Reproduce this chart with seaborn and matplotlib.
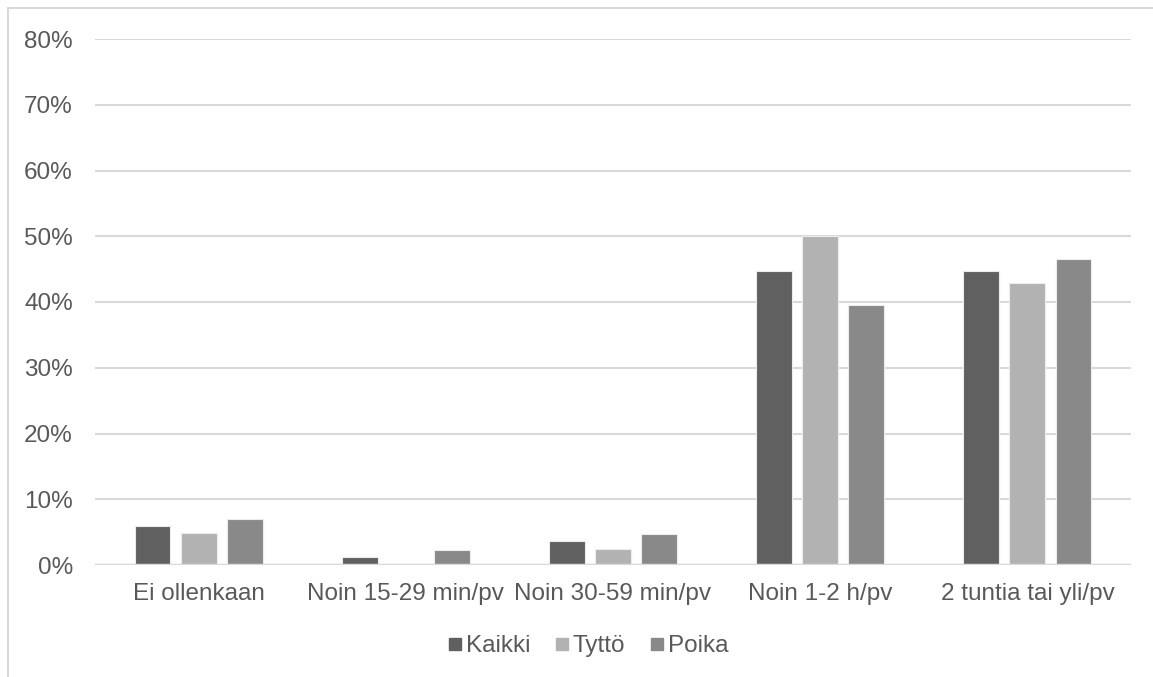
import pandas as pd
import matplotlib
matplotlib.use('Agg')
import matplotlib.pyplot as plt
from matplotlib.lines import Line2D
from matplotlib.ticker import PercentFormatter
import seaborn as sns

# Data (shares, 0-1)
categories = ['Ei ollenkaan', 'Noin 15-29 min/pv', 'Noin 30-59 min/pv',
              'Noin 1-2 h/pv', '2 tuntia tai yli/pv']
groups = ['Kaikki', 'Tyttö', 'Poika']
kaikki = [0.059, 0.012, 0.036, 0.447, 0.447]
tytto = [0.048, 0.0, 0.024, 0.500, 0.429]
poika = [0.070, 0.023, 0.047, 0.395, 0.465]
colors = ['#606060', '#b2b2b2', '#898989']

df = pd.DataFrame({
    'Kategoria': categories * 3,
    'Ryhmä': [g for g in groups for _ in categories],
    'Osuus': kaikki + tytto + poika,
})

sns.set_style('white')
plt.rcParams['font.family'] = ['Liberation Sans', 'DejaVu Sans']
text_color = '#595959'
grid_color = '#d9d9d9'

fig = plt.figure(figsize=(11.53, 6.77), dpi=100)
ax = fig.add_axes([95 / 1153, 1 - 565 / 677, (1131 - 95) / 1153, (565 - 39) / 677])

sns.barplot(data=df, x='Kategoria', y='Osuus', hue='Ryhmä', palette=colors,
            width=0.667, gap=0.22, edgecolor='#ececec', linewidth=0.8,
            ax=ax, legend=False, zorder=3)

ax.set_ylim(0, 0.8)
ax.set_yticks([i / 10 for i in range(9)])
ax.yaxis.set_major_formatter(PercentFormatter(1.0, decimals=0))
ax.grid(axis='y', color=grid_color, linewidth=1.5, zorder=0)
ax.axhline(0, color=grid_color, linewidth=2.5, zorder=4)
for s in ax.spines.values():
    s.set_visible(False)
ax.set_xlabel('')
ax.set_ylabel('')
ax.tick_params(axis='both', length=0, labelsize=17.5, colors=text_color)
ax.tick_params(axis='y', pad=16)
ax.tick_params(axis='x', pad=13)

handles = [Line2D([], [], marker='s', linestyle='', markersize=9,
                  markerfacecolor=c, markeredgecolor=c) for c in colors]
leg = fig.legend(handles, groups, loc='center', bbox_to_anchor=(588 / 1153, 1 - 646 / 677),
                 ncol=3, frameon=False, fontsize=17.5, handlelength=0.6,
                 handletextpad=0.15, columnspacing=1.0)
for t in leg.get_texts():
    t.set_color(text_color)

# outer chart border (top and left visible)
fig.add_artist(Line2D([8 / 1153, 8 / 1153], [0, 1 - 8 / 677], transform=fig.transFigure,
                      color=grid_color, linewidth=1.5))
fig.add_artist(Line2D([8 / 1153, 1], [1 - 8 / 677, 1 - 8 / 677], transform=fig.transFigure,
                      color=grid_color, linewidth=1.5))

fig.savefig('out.png', dpi=100, facecolor='white')
